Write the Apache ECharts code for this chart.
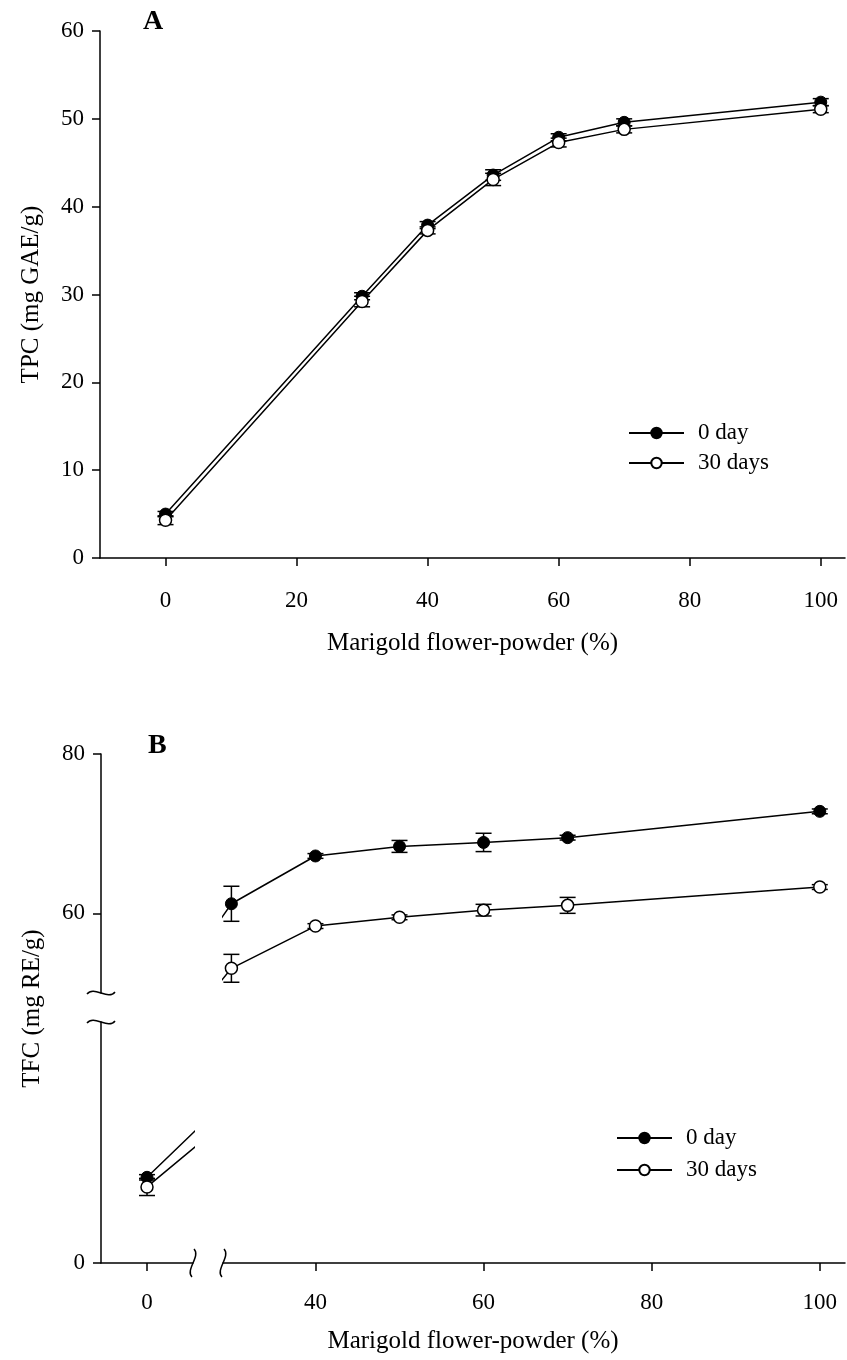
<!DOCTYPE html>
<html>
<head>
<meta charset="utf-8">
<script src="https://cdn.jsdelivr.net/npm/echarts@6/dist/echarts.min.js"></script>
<style>
html, body { margin: 0; padding: 0; background: #fff; }
#chart { width: 847px; height: 1360px; }
</style>
</head>
<body>
<div id="chart"></div>
<script>
// marigold flower-powder level (%)
const powder = [0, 30, 40, 50, 60, 70, 100];

// A: TPC, mg GAE/g (mean, error)
const tpcDay0 = [5.0, 29.8, 37.9, 43.6, 47.9, 49.6, 51.9];
const tpcDay0Err = [0.3, 0.4, 0.4, 0.6, 0.4, 0.4, 0.4];
const tpcDay30 = [4.3, 29.2, 37.3, 43.1, 47.3, 48.8, 51.1];
const tpcDay30Err = [0.5, 0.6, 0.4, 0.7, 0.5, 0.4, 0.4];

// B: TFC, mg RE/g (mean, error)
const tfcDay0 = [16.0, 61.2, 67.2, 68.4, 68.9, 69.5, 72.8];
const tfcDay0Err = [0.5, 2.2, 0.3, 0.75, 1.15, 0.3, 0.3];
const tfcDay30 = [14.2, 53.1, 58.4, 59.5, 60.4, 61.0, 63.3];
const tfcDay30Err = [1.6, 1.75, 0.3, 0.3, 0.73, 1.0, 0.3];

const xTicksA = [0, 20, 40, 60, 80, 100];
const xTicksBLeft = [0];
const xTicksBRight = [40, 60, 80, 100];
const yTicksBUpper = [60, 80];
const yTicksBLower = [0];

const FONT = 'Liberation Serif';
const BLACK = '#000';

// grid boxes (px)
const gA = { left: 100, top: 31, width: 745, height: 527 };
const gUL = { left: 101, top: 754, width: 92, height: 239 };
const gLL = { left: 101, top: 1022, width: 92, height: 241 };
const gUR = { left: 223, top: 754, width: 622, height: 239 };
const gLR = { left: 223, top: 1022, width: 622, height: 241 };
const gB = { left: 101, top: 754, width: 744, height: 509 };

const pts = (ys) => powder.map((x, i) => [x, ys[i]]);
const errPts = (ys, es) => powder.map((x, i) => [x, ys[i], es[i]]);

const labelStyle = { color: BLACK, fontFamily: FONT, fontSize: 23 };
const nameStyle = { color: BLACK, fontFamily: FONT, fontSize: 25 };
const axisLineStyle = { lineStyle: { color: BLACK, width: 1.5 } };

function errorBar(params, api) {
  const x = api.value(0), y = api.value(1), e = api.value(2);
  const hi = api.coord([x, y + e]);
  const lo = api.coord([x, y - e]);
  const w = 8;
  const st = { stroke: BLACK, lineWidth: 1.5 };
  return {
    type: 'group',
    children: [
      { type: 'line', shape: { x1: hi[0], y1: hi[1], x2: lo[0], y2: lo[1] }, style: st },
      { type: 'line', shape: { x1: hi[0] - w, y1: hi[1], x2: hi[0] + w, y2: hi[1] }, style: st },
      { type: 'line', shape: { x1: lo[0] - w, y1: lo[1], x2: lo[0] + w, y2: lo[1] }, style: st }
    ]
  };
}

function valueAxis(gridIndex, min, max, extra) {
  return Object.assign({
    type: 'value', gridIndex, min, max,
    axisLine: Object.assign({ show: true, onZero: false }, axisLineStyle),
    axisTick: { show: true, length: 8, lineStyle: { color: BLACK, width: 1.5 } },
    axisLabel: Object.assign({}, labelStyle),
    splitLine: { show: false }
  }, extra);
}

function hiddenAxis(gridIndex, min, max) {
  return { type: 'value', gridIndex, min, max, show: false, splitLine: { show: false } };
}

function setTicks(axis, values, margin) {
  axis.axisTick.customValues = values;
  axis.axisLabel.customValues = values;
  axis.axisLabel.margin = margin;
  return axis;
}

function nameAxis(gridIndex, name, gap) {
  return {
    type: 'value', gridIndex, min: 0, max: 1, name,
    nameLocation: 'middle', nameGap: gap,
    nameTextStyle: nameStyle,
    axisLine: { show: false }, axisTick: { show: false },
    axisLabel: { show: false }, splitLine: { show: false }
  };
}

function lineSeries(name, xi, yi, data, open) {
  return {
    name, type: 'line', xAxisIndex: xi, yAxisIndex: yi, data,
    clip: true, z: open ? 4 : 3,
    symbol: 'circle', symbolSize: 12,
    lineStyle: { color: BLACK, width: 1.5 },
    itemStyle: open
      ? { color: '#fff', borderColor: BLACK, borderWidth: 1.5 }
      : { color: BLACK, borderColor: BLACK, borderWidth: 1 }
  };
}

function errSeries(xi, yi, data) {
  return {
    name: 'err', type: 'custom', xAxisIndex: xi, yAxisIndex: yi,
    data, clip: true, z: 2, renderItem: errorBar,
    encode: { x: 0, y: 1 }
  };
}

// axis break marks
function hBreak(cx, cy) {
  return {
    type: 'bezierCurve', silent: true,
    shape: { x1: cx - 14, y1: cy + 1, cpx1: cx - 7, cpy1: cy - 8, cpx2: cx + 7, cpy2: cy + 8, x2: cx + 14, y2: cy - 1 },
    style: { stroke: BLACK, lineWidth: 1.5, fill: null }
  };
}
function vBreak(cx, cy) {
  return {
    type: 'bezierCurve', silent: true,
    shape: { x1: cx + 1, y1: cy - 14, cpx1: cx + 8, cpy1: cy - 7, cpx2: cx - 8, cpy2: cy + 7, x2: cx - 1, y2: cy + 14 },
    style: { stroke: BLACK, lineWidth: 1.5, fill: null }
  };
}

const xA = setTicks(valueAxis(0, -10, 103.7, {
  name: 'Marigold flower-powder (%)', nameLocation: 'middle', nameGap: 73,
  nameTextStyle: nameStyle
}), xTicksA, 31);
const yA = valueAxis(0, 0, 60, {
  interval: 10,
  name: 'TPC (mg GAE/g)', nameLocation: 'middle', nameGap: 56,
  nameTextStyle: nameStyle
});
yA.axisLabel.margin = 16;

const chart = echarts.init(document.getElementById('chart'));
chart.setOption({
  animation: false,
  backgroundColor: '#fff',
  title: [
    { text: 'A', left: 143, top: 8, padding: 0, textStyle: { fontFamily: FONT, fontSize: 28, fontWeight: 'bold', color: BLACK } },
    { text: 'B', left: 148, top: 732, padding: 0, textStyle: { fontFamily: FONT, fontSize: 28, fontWeight: 'bold', color: BLACK } }
  ],
  legend: [
    {
      data: ['0 day', '30 days'], orient: 'vertical', left: 628, top: 421,
      itemWidth: 55, itemHeight: 13, itemGap: 6, padding: 0,
      textStyle: { color: BLACK, fontFamily: FONT, fontSize: 23, lineHeight: 24, padding: [0, 0, 0, 9] }
    },
    {
      data: ['0 day', '30 days'], orient: 'vertical', left: 616, top: 1126,
      itemWidth: 55, itemHeight: 13, itemGap: 8, padding: 0,
      textStyle: { color: BLACK, fontFamily: FONT, fontSize: 23, lineHeight: 24, padding: [0, 0, 0, 9] }
    }
  ],
  grid: [gA, gUL, gLL, gUR, gLR, gB],
  xAxis: [
    xA,
    hiddenAxis(1, -5.5, 5.5),
    setTicks(valueAxis(2, -5.5, 5.5), xTicksBLeft, 28),
    hiddenAxis(3, 29, 103),
    setTicks(valueAxis(4, 29, 103), xTicksBRight, 28),
    nameAxis(5, 'Marigold flower-powder (%)', 66)
  ],
  yAxis: [
    yA,
    setTicks(valueAxis(1, 50, 80), yTicksBUpper, 16),
    setTicks(valueAxis(2, 0, 45), yTicksBLower, 16),
    hiddenAxis(3, 50, 80),
    hiddenAxis(4, 0, 45),
    nameAxis(5, 'TFC (mg RE/g)', 56)
  ],
  graphic: [
    hBreak(gUL.left, gUL.top + gUL.height),
    hBreak(gLL.left, gLL.top),
    vBreak(gLL.left + gLL.width, gLL.top + gLL.height),
    vBreak(gLR.left, gLR.top + gLR.height)
  ],
  series: [
    // A
    errSeries(0, 0, errPts(tpcDay0, tpcDay0Err)),
    errSeries(0, 0, errPts(tpcDay30, tpcDay30Err)),
    lineSeries('0 day', 0, 0, pts(tpcDay0), false),
    lineSeries('30 days', 0, 0, pts(tpcDay30), true),
    // B, lower-left part of the broken axes
    errSeries(2, 2, errPts(tfcDay0, tfcDay0Err)),
    errSeries(2, 2, errPts(tfcDay30, tfcDay30Err)),
    lineSeries('0 day', 2, 2, pts(tfcDay0), false),
    lineSeries('30 days', 2, 2, pts(tfcDay30), true),
    // B, upper-right part
    errSeries(3, 3, errPts(tfcDay0, tfcDay0Err)),
    errSeries(3, 3, errPts(tfcDay30, tfcDay30Err)),
    lineSeries('0 day', 3, 3, pts(tfcDay0), false),
    lineSeries('30 days', 3, 3, pts(tfcDay30), true)
  ]
});
</script>
</body>
</html>
